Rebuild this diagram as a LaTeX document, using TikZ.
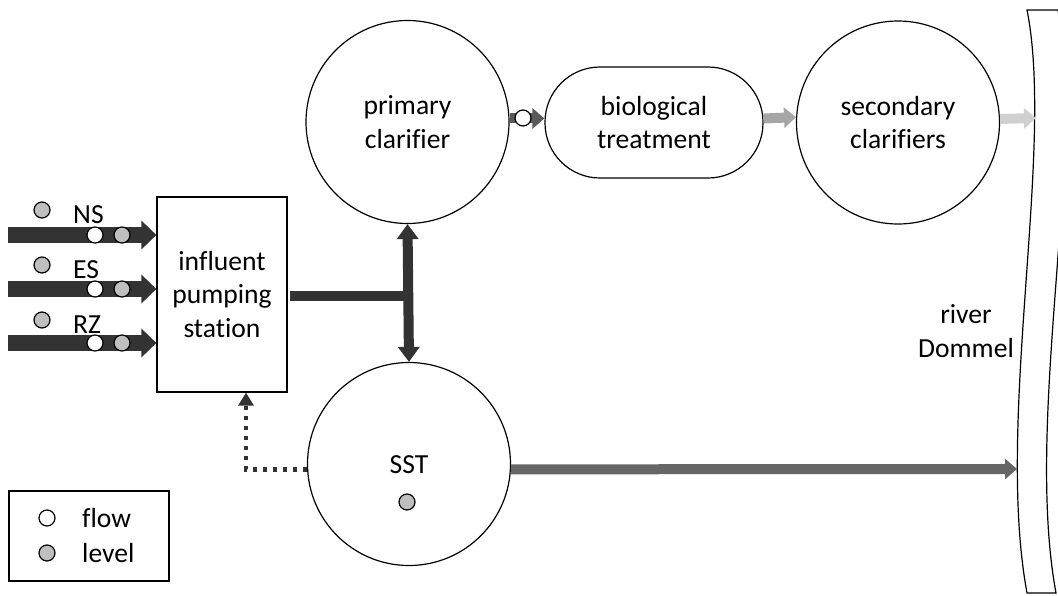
\documentclass[tikz,border=0pt]{standalone}
\usepackage{fontspec}
\setmainfont[Ligatures=NoCommon]{Carlito}
\usetikzlibrary{arrows.meta}
\definecolor{dk}{HTML}{333333}
\definecolor{dk2}{HTML}{595959}
\definecolor{md}{HTML}{A6A6A6}
\definecolor{lt}{HTML}{D0D0D0}
\definecolor{sst}{HTML}{666666}
\definecolor{lvl}{HTML}{BFBFBF}
\tikzset{
  tank/.style={circle, draw, line width=1.2pt, minimum size=203pt, inner sep=0pt, align=center},
  boxnode/.style={draw, line width=1.2pt, align=center, inner sep=0pt},
  flowdot/.style={circle, draw, line width=1.2pt, fill=white, minimum size=16pt, inner sep=0pt},
  leveldot/.style={circle, draw, line width=1.2pt, fill=lvl, minimum size=16pt, inner sep=0pt},
  lbl/.style={anchor=base west, inner sep=0pt},
  inarrow/.style={draw=dk, line width=16pt, -{Triangle[length=15pt,width=28pt]}},
  blockarrow/.style={line width=10pt, -{Triangle[length=12pt,width=20pt]}},
  dblarrow/.style={draw=dk, line width=10pt, {Triangle[length=15pt,width=21pt]}-{Triangle[length=15pt,width=21pt]}},
  dotarrow/.style={draw=dk, line width=4.5pt, dash pattern=on 4.5pt off 5.5pt, -{Triangle[length=13pt,width=15pt]}},
}
\begin{document}
\begin{tikzpicture}[x=1pt,y=-1pt, font=\fontsize{27.6}{33.5}\selectfont]
\useasboundingbox (0,0) rectangle (1058,595);
\clip (0,0) rectangle (1058,595);

% main units
\node[tank] (pc) at (407.5,122) {primary\\clarifier};
\node[tank] (sc) at (898,122.5) {secondary\\clarifiers};
\node[tank] (sst) at (409,464) {};
\node (sstlab) at (409,465) {SST};
\node[boxnode, minimum width=218pt, minimum height=111pt, rounded corners=55pt] (bio) at (654,122.5) {biological\\treatment};
\node[boxnode, minimum width=130pt, minimum height=195pt] (ips) at (222,294.5) {influent\\pumping\\station};

% river
\draw[line width=1.2pt] (1027,10) .. controls (1055,150) and (995,420) .. (1027,593) -- (1056,593) .. controls (1024,420) and (1086,150) .. (1058,10) -- cycle;
\node[align=center] (river) at (966,331) {river\\Dommel};
\coordinate (rivtop) at (1036,118);
\coordinate (rivbot) at (1017,469);

% influent arrows
\coordinate (ns0) at (8,235);
\coordinate (es0) at (8,289);
\coordinate (rz0) at (8,343);
\draw[inarrow] (ns0) -- (ns0 -| ips.west);
\draw[inarrow] (es0) -- (es0 -| ips.west);
\draw[inarrow] (rz0) -- (rz0 -| ips.west);
\node[flowdot] (nsf) at (95,235) {};
\node[leveldot] (nsl) at (122,235) {};
\node[flowdot] (esf) at (95,289) {};
\node[leveldot] (esl) at (122,289) {};
\node[flowdot] (rzf) at (95,343) {};
\node[leveldot] (rzl) at (122,343) {};
\node[leveldot] (nsu) at (42,210) {};
\node[leveldot] (esu) at (42,265) {};
\node[leveldot] (rzu) at (42,320) {};
\node[lbl] (nslab) at (73,223) {NS};
\node[lbl] (eslab) at (73,278) {ES};
\node[lbl] (rzlab) at (73,333) {RZ};

% pumping station to clarifier / SST
\coordinate (tee) at (407.5,296);
\draw[draw=dk, line width=10pt] ([xshift=2pt]ips.east |- tee) -- (tee);
\draw[dblarrow] (pc.south) -- (sst.north);

% treatment line
\draw[blockarrow, draw=dk2] (pc.2) -- (bio.west |- pc.2);
\node[flowdot] (pcf) at (523,118) {};
\draw[blockarrow, draw=md] ([yshift=4pt]bio.east) -- (sc.177.5);
\draw[blockarrow, draw=lt] (sc.2.5) -- (rivtop);

% SST outlet and control
\draw[blockarrow, draw=sst] (sst.-3) -- (rivbot);
\node[leveldot] (sstl) at (407,502) {};
\draw[dotarrow] (sst.183) -| ([xshift=24pt]ips.south);

% legend
\node[draw, line width=1.2pt, minimum width=160pt, minimum height=90pt, inner sep=0pt] (legend) at (89,536) {};
\node[flowdot] (lgf) at (47,518) {};
\node[leveldot] (lgl) at (47,553) {};
\node[anchor=west, inner sep=0pt] (lgft) at (82,518) {flow};
\node[anchor=west, inner sep=0pt] (lglt) at (82,553) {level};
\end{tikzpicture}
\end{document}
